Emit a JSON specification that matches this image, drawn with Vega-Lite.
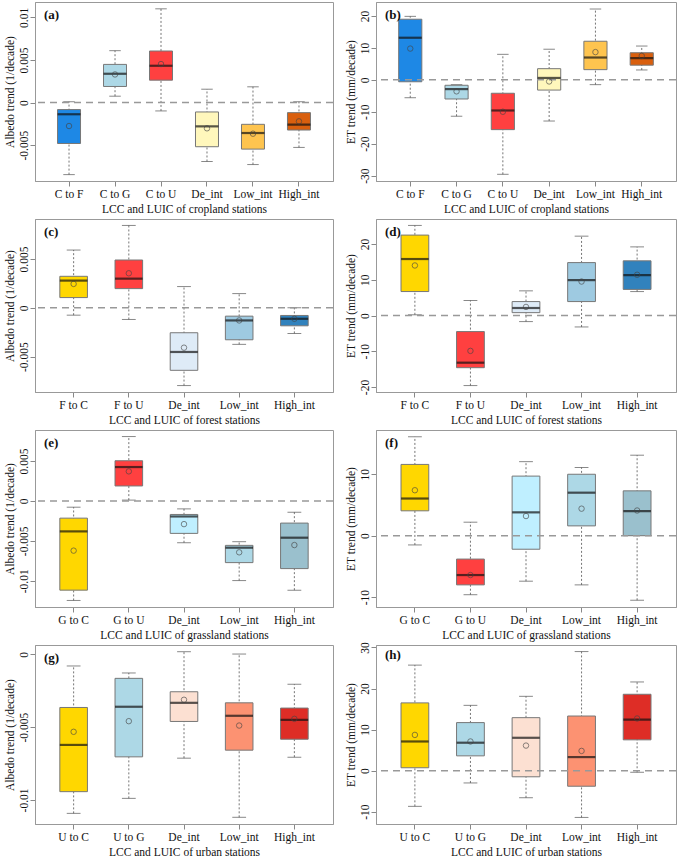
{
"$schema": "https://vega.github.io/schema/vega-lite/v6.json",
"background": "white",
"padding": {"left": 3, "top": 1, "right": 2, "bottom": 2},
"bounds": "flush",
"align": "each",
"columns": 2,
"spacing": {"row": 38, "column": 43},
"resolve": {"scale": {"color": "independent", "x": "independent", "y": "independent"}},
"datasets": {
"a": [
{"cat":"C to F","min":-0.00845,"q1":-0.0048,"med":-0.00137,"q3":-0.00082,"max":0.0001,"mean":-0.00275},
{"cat":"C to G","min":0.00075,"q1":0.00189,"med":0.00338,"q3":0.00448,"max":0.00609,"mean":0.0033},
{"cat":"C to U","min":-0.00098,"q1":0.00263,"med":0.00432,"q3":0.00605,"max":0.011,"mean":0.00452},
{"cat":"De_int","min":-0.00691,"q1":-0.00518,"med":-0.00279,"q3":-0.0011,"max":0.00157,"mean":-0.00302},
{"cat":"Low_int","min":-0.00727,"q1":-0.00546,"med":-0.00357,"q3":-0.00255,"max":0.00185,"mean":-0.00365},
{"cat":"High_int","min":-0.00526,"q1":-0.00322,"med":-0.00259,"q3":-0.00118,"max":0.0001,"mean":-0.0022}],
"b": [
{"cat":"C to F","min":-5.6,"q1":-0.6,"med":13.2,"q3":19.0,"max":19.9,"mean":9.8},
{"cat":"C to G","min":-11.4,"q1":-6.0,"med":-2.9,"q3":-1.7,"max":-1.5,"mean":-3.6},
{"cat":"C to U","min":-29.6,"q1":-15.6,"med":-9.6,"q3":-4.2,"max":8.0,"mean":-10.0},
{"cat":"De_int","min":-12.9,"q1":-3.2,"med":0.6,"q3":3.5,"max":9.6,"mean":-0.5},
{"cat":"Low_int","min":-1.5,"q1":3.2,"med":7.0,"q3":12.1,"max":22.2,"mean":8.7},
{"cat":"High_int","min":3.1,"q1":4.6,"med":6.8,"q3":8.5,"max":10.6,"mean":7.5}],
"c": [
{"cat":"F to C","min":-0.00075,"q1":0.00105,"med":0.00279,"q3":0.00323,"max":0.00592,"mean":0.00245},
{"cat":"F to U","min":-0.00119,"q1":0.00197,"med":0.00299,"q3":0.0049,"max":0.00844,"mean":0.00354},
{"cat":"De_int","min":-0.00796,"q1":-0.0064,"med":-0.00452,"q3":-0.00255,"max":0.00218,"mean":-0.00408},
{"cat":"Low_int","min":-0.00374,"q1":-0.00327,"med":-0.00129,"q3":-0.00085,"max":0.00146,"mean":-0.00129},
{"cat":"High_int","min":-0.00262,"q1":-0.00184,"med":-0.00112,"q3":-0.00078,"max":0.0,"mean":-0.00112}],
"d": [
{"cat":"F to C","min":0.2,"q1":6.7,"med":15.8,"q3":22.5,"max":25.2,"mean":14.0},
{"cat":"F to U","min":-19.6,"q1":-14.6,"med":-13.2,"q3":-4.5,"max":4.2,"mean":-9.9},
{"cat":"De_int","min":-1.7,"q1":0.8,"med":2.1,"q3":3.9,"max":6.9,"mean":2.4},
{"cat":"Low_int","min":-3.2,"q1":3.9,"med":9.9,"q3":14.8,"max":22.2,"mean":9.5},
{"cat":"High_int","min":6.7,"q1":7.3,"med":11.3,"q3":15.3,"max":19.2,"mean":11.4}],
"e": [
{"cat":"G to C","min":-0.01247,"q1":-0.01118,"med":-0.00382,"q3":-0.00216,"max":-0.00079,"mean":-0.00623},
{"cat":"G to U","min":0.0001,"q1":0.00187,"med":0.00424,"q3":0.00503,"max":0.00806,"mean":0.0037},
{"cat":"De_int","min":-0.00524,"q1":-0.00407,"med":-0.00195,"q3":-0.0017,"max":-0.001,"mean":-0.00291},
{"cat":"Low_int","min":-0.00998,"q1":-0.00773,"med":-0.00586,"q3":-0.00557,"max":-0.00511,"mean":-0.00644},
{"cat":"High_int","min":-0.01118,"q1":-0.00848,"med":-0.00461,"q3":-0.00278,"max":-0.00141,"mean":-0.00553}],
"f": [
{"cat":"G to C","min":-1.5,"q1":4.05,"med":6.05,"q3":11.6,"max":16.1,"mean":7.4},
{"cat":"G to U","min":-9.6,"q1":-8.0,"med":-6.4,"q3":-3.8,"max":2.2,"mean":-6.4},
{"cat":"De_int","min":-7.4,"q1":-2.2,"med":3.8,"q3":9.7,"max":12.05,"mean":3.2},
{"cat":"Low_int","min":-8.0,"q1":1.6,"med":7.0,"q3":10.0,"max":11.1,"mean":4.4},
{"cat":"High_int","min":-10.5,"q1":0.0,"med":4.0,"q3":7.3,"max":13.1,"mean":4.1}],
"g": [
{"cat":"U to C","min":-0.01092,"q1":-0.00943,"med":-0.00622,"q3":-0.00365,"max":-0.0008,"mean":-0.00532},
{"cat":"U to G","min":-0.00989,"q1":-0.00704,"med":-0.0036,"q3":-0.00165,"max":-0.00128,"mean":-0.00459},
{"cat":"De_int","min":-0.00713,"q1":-0.00461,"med":-0.00333,"q3":-0.00257,"max":0.00018,"mean":-0.00312},
{"cat":"Low_int","min":-0.01119,"q1":-0.00658,"med":-0.00422,"q3":-0.00333,"max":0.00002,"mean":-0.00489},
{"cat":"High_int","min":-0.00706,"q1":-0.00583,"med":-0.0045,"q3":-0.00369,"max":-0.00206,"mean":-0.00443}],
"h": [
{"cat":"U to C","min":-8.7,"q1":0.7,"med":7.1,"q3":16.5,"max":25.7,"mean":8.7},
{"cat":"U to G","min":-3.0,"q1":3.6,"med":6.8,"q3":11.7,"max":15.9,"mean":7.1},
{"cat":"De_int","min":-6.6,"q1":-1.5,"med":8.0,"q3":12.9,"max":18.1,"mean":6.1},
{"cat":"Low_int","min":-11.4,"q1":-3.8,"med":3.3,"q3":13.3,"max":29.0,"mean":4.8},
{"cat":"High_int","min":-0.4,"q1":7.5,"med":12.4,"q3":18.6,"max":21.6,"mean":12.7}]
},
"concat": [
{
"width": 298, "height": 179, "data": {"name": "a"}, "title": "(a)",
"layer": [
{"mark":{"type":"rule","strokeDash":[2,2],"color":"#666","strokeWidth":0.9},"encoding":{"x":{"field":"cat","type":"nominal","sort":null,"scale":{"paddingInner":0,"paddingOuter":0.24},"title":"LCC and LUIC of cropland stations"},"y":{"field":"min","type":"quantitative","scale":{"domain":[-0.0092,0.0118],"nice":false,"zero":false},"title":"Albedo trend (1/decade)","axis":{"values":[-0.005,0,0.005,0.01],"tickCount":12,"labelExpr":"'' + datum.value","labelOverlap":false}},"y2":{"field":"max"}}},
{"mark":{"type":"tick","orient":"horizontal","size":11.5,"thickness":1,"color":"#555"},"encoding":{"x":{"field":"cat","type":"nominal","sort":null,"scale":{"paddingInner":0,"paddingOuter":0.24},"title":"LCC and LUIC of cropland stations"},"y":{"field":"min","type":"quantitative","scale":{"domain":[-0.0092,0.0118],"nice":false,"zero":false},"title":"Albedo trend (1/decade)"}}},
{"mark":{"type":"tick","orient":"horizontal","size":11.5,"thickness":1,"color":"#555"},"encoding":{"x":{"field":"cat","type":"nominal","sort":null,"scale":{"paddingInner":0,"paddingOuter":0.24},"title":"LCC and LUIC of cropland stations"},"y":{"field":"max","type":"quantitative","scale":{"domain":[-0.0092,0.0118],"nice":false,"zero":false},"title":"Albedo trend (1/decade)"}}},
{"mark":{"type":"bar","width":{"band":0.5},"stroke":"#777","strokeWidth":1,"opacity":1},"encoding":{"x":{"field":"cat","type":"nominal","sort":null,"scale":{"paddingInner":0,"paddingOuter":0.24},"title":"LCC and LUIC of cropland stations"},"y":{"field":"q1","type":"quantitative","scale":{"domain":[-0.0092,0.0118],"nice":false,"zero":false},"title":"Albedo trend (1/decade)"},"y2":{"field":"q3"},"color":{"field":"cat","type":"nominal","scale":{"domain":["C to F","C to G","C to U","De_int","Low_int","High_int"],"range":["#1E88E5","#ADD8E6","#FF4040","#FFF7BC","#FEC44F","#D95F0E"]},"legend":null}}},
{"data":{"values":[{"z":0}]},"mark":{"type":"rule","strokeDash":[7,5],"color":"#999","strokeWidth":1.5},"encoding":{"y":{"field":"z","type":"quantitative","scale":{"domain":[-0.0092,0.0118],"nice":false,"zero":false},"title":"Albedo trend (1/decade)"}}},
{"mark":{"type":"tick","orient":"horizontal","size":23,"thickness":2.2,"color":"#111"},"encoding":{"x":{"field":"cat","type":"nominal","sort":null,"scale":{"paddingInner":0,"paddingOuter":0.24},"title":"LCC and LUIC of cropland stations"},"y":{"field":"med","type":"quantitative","scale":{"domain":[-0.0092,0.0118],"nice":false,"zero":false},"title":"Albedo trend (1/decade)"}}},
{"mark":{"type":"point","shape":"circle","filled":false,"size":30,"color":"#444","strokeWidth":0.9},"encoding":{"x":{"field":"cat","type":"nominal","sort":null,"scale":{"paddingInner":0,"paddingOuter":0.24},"title":"LCC and LUIC of cropland stations"},"y":{"field":"mean","type":"quantitative","scale":{"domain":[-0.0092,0.0118],"nice":false,"zero":false},"title":"Albedo trend (1/decade)"}}}
]
},
{
"width": 300, "height": 179, "data": {"name": "b"}, "title": "(b)",
"layer": [
{"mark":{"type":"rule","strokeDash":[2,2],"color":"#666","strokeWidth":0.9},"encoding":{"x":{"field":"cat","type":"nominal","sort":null,"scale":{"paddingInner":0,"paddingOuter":0.24},"title":"LCC and LUIC of cropland stations"},"y":{"field":"min","type":"quantitative","scale":{"domain":[-31.7,24.4],"nice":false,"zero":false},"title":"ET trend (mm/decade)","axis":{"values":[-30,-20,-10,0,10,20],"tickCount":12,"labelExpr":"'' + datum.value","labelOverlap":false}},"y2":{"field":"max"}}},
{"mark":{"type":"tick","orient":"horizontal","size":11.5,"thickness":1,"color":"#555"},"encoding":{"x":{"field":"cat","type":"nominal","sort":null,"scale":{"paddingInner":0,"paddingOuter":0.24},"title":"LCC and LUIC of cropland stations"},"y":{"field":"min","type":"quantitative","scale":{"domain":[-31.7,24.4],"nice":false,"zero":false},"title":"ET trend (mm/decade)"}}},
{"mark":{"type":"tick","orient":"horizontal","size":11.5,"thickness":1,"color":"#555"},"encoding":{"x":{"field":"cat","type":"nominal","sort":null,"scale":{"paddingInner":0,"paddingOuter":0.24},"title":"LCC and LUIC of cropland stations"},"y":{"field":"max","type":"quantitative","scale":{"domain":[-31.7,24.4],"nice":false,"zero":false},"title":"ET trend (mm/decade)"}}},
{"mark":{"type":"bar","width":{"band":0.5},"stroke":"#777","strokeWidth":1,"opacity":1},"encoding":{"x":{"field":"cat","type":"nominal","sort":null,"scale":{"paddingInner":0,"paddingOuter":0.24},"title":"LCC and LUIC of cropland stations"},"y":{"field":"q1","type":"quantitative","scale":{"domain":[-31.7,24.4],"nice":false,"zero":false},"title":"ET trend (mm/decade)"},"y2":{"field":"q3"},"color":{"field":"cat","type":"nominal","scale":{"domain":["C to F","C to G","C to U","De_int","Low_int","High_int"],"range":["#1E88E5","#ADD8E6","#FF4040","#FFF7BC","#FEC44F","#D95F0E"]},"legend":null}}},
{"data":{"values":[{"z":0}]},"mark":{"type":"rule","strokeDash":[7,5],"color":"#999","strokeWidth":1.5},"encoding":{"y":{"field":"z","type":"quantitative","scale":{"domain":[-31.7,24.4],"nice":false,"zero":false},"title":"ET trend (mm/decade)"}}},
{"mark":{"type":"tick","orient":"horizontal","size":23,"thickness":2.2,"color":"#111"},"encoding":{"x":{"field":"cat","type":"nominal","sort":null,"scale":{"paddingInner":0,"paddingOuter":0.24},"title":"LCC and LUIC of cropland stations"},"y":{"field":"med","type":"quantitative","scale":{"domain":[-31.7,24.4],"nice":false,"zero":false},"title":"ET trend (mm/decade)"}}},
{"mark":{"type":"point","shape":"circle","filled":false,"size":30,"color":"#444","strokeWidth":0.9},"encoding":{"x":{"field":"cat","type":"nominal","sort":null,"scale":{"paddingInner":0,"paddingOuter":0.24},"title":"LCC and LUIC of cropland stations"},"y":{"field":"mean","type":"quantitative","scale":{"domain":[-31.7,24.4],"nice":false,"zero":false},"title":"ET trend (mm/decade)"}}}
]
},
{
"width": 298, "height": 173, "data": {"name": "c"}, "title": "(c)",
"layer": [
{"mark":{"type":"rule","strokeDash":[2,2],"color":"#666","strokeWidth":0.9},"encoding":{"x":{"field":"cat","type":"nominal","sort":null,"scale":{"paddingInner":0,"paddingOuter":0.2},"title":"LCC and LUIC of forest stations"},"y":{"field":"min","type":"quantitative","scale":{"domain":[-0.00862,0.0091],"nice":false,"zero":false},"title":"Albedo trend (1/decade)","axis":{"values":[-0.005,0,0.005],"tickCount":12,"labelExpr":"'' + datum.value","labelOverlap":false}},"y2":{"field":"max"}}},
{"mark":{"type":"tick","orient":"horizontal","size":13.8,"thickness":1,"color":"#555"},"encoding":{"x":{"field":"cat","type":"nominal","sort":null,"scale":{"paddingInner":0,"paddingOuter":0.2},"title":"LCC and LUIC of forest stations"},"y":{"field":"min","type":"quantitative","scale":{"domain":[-0.00862,0.0091],"nice":false,"zero":false},"title":"Albedo trend (1/decade)"}}},
{"mark":{"type":"tick","orient":"horizontal","size":13.8,"thickness":1,"color":"#555"},"encoding":{"x":{"field":"cat","type":"nominal","sort":null,"scale":{"paddingInner":0,"paddingOuter":0.2},"title":"LCC and LUIC of forest stations"},"y":{"field":"max","type":"quantitative","scale":{"domain":[-0.00862,0.0091],"nice":false,"zero":false},"title":"Albedo trend (1/decade)"}}},
{"mark":{"type":"bar","width":{"band":0.5},"stroke":"#777","strokeWidth":1,"opacity":1},"encoding":{"x":{"field":"cat","type":"nominal","sort":null,"scale":{"paddingInner":0,"paddingOuter":0.2},"title":"LCC and LUIC of forest stations"},"y":{"field":"q1","type":"quantitative","scale":{"domain":[-0.00862,0.0091],"nice":false,"zero":false},"title":"Albedo trend (1/decade)"},"y2":{"field":"q3"},"color":{"field":"cat","type":"nominal","scale":{"domain":["F to C","F to U","De_int","Low_int","High_int"],"range":["#FFD700","#FF4040","#DEEBF7","#9ECAE1","#3182BD"]},"legend":null}}},
{"data":{"values":[{"z":0}]},"mark":{"type":"rule","strokeDash":[7,5],"color":"#999","strokeWidth":1.5},"encoding":{"y":{"field":"z","type":"quantitative","scale":{"domain":[-0.00862,0.0091],"nice":false,"zero":false},"title":"Albedo trend (1/decade)"}}},
{"mark":{"type":"tick","orient":"horizontal","size":27.6,"thickness":2.2,"color":"#111"},"encoding":{"x":{"field":"cat","type":"nominal","sort":null,"scale":{"paddingInner":0,"paddingOuter":0.2},"title":"LCC and LUIC of forest stations"},"y":{"field":"med","type":"quantitative","scale":{"domain":[-0.00862,0.0091],"nice":false,"zero":false},"title":"Albedo trend (1/decade)"}}},
{"mark":{"type":"point","shape":"circle","filled":false,"size":30,"color":"#444","strokeWidth":0.9},"encoding":{"x":{"field":"cat","type":"nominal","sort":null,"scale":{"paddingInner":0,"paddingOuter":0.2},"title":"LCC and LUIC of forest stations"},"y":{"field":"mean","type":"quantitative","scale":{"domain":[-0.00862,0.0091],"nice":false,"zero":false},"title":"Albedo trend (1/decade)"}}}
]
},
{
"width": 300, "height": 173, "data": {"name": "d"}, "title": "(d)",
"layer": [
{"mark":{"type":"rule","strokeDash":[2,2],"color":"#666","strokeWidth":0.9},"encoding":{"x":{"field":"cat","type":"nominal","sort":null,"scale":{"paddingInner":0,"paddingOuter":0.2},"title":"LCC and LUIC of forest stations"},"y":{"field":"min","type":"quantitative","scale":{"domain":[-21.4,27.0],"nice":false,"zero":false},"title":"ET trend (mm/decade)","axis":{"values":[-20,-10,0,10,20],"tickCount":12,"labelExpr":"'' + datum.value","labelOverlap":false}},"y2":{"field":"max"}}},
{"mark":{"type":"tick","orient":"horizontal","size":13.8,"thickness":1,"color":"#555"},"encoding":{"x":{"field":"cat","type":"nominal","sort":null,"scale":{"paddingInner":0,"paddingOuter":0.2},"title":"LCC and LUIC of forest stations"},"y":{"field":"min","type":"quantitative","scale":{"domain":[-21.4,27.0],"nice":false,"zero":false},"title":"ET trend (mm/decade)"}}},
{"mark":{"type":"tick","orient":"horizontal","size":13.8,"thickness":1,"color":"#555"},"encoding":{"x":{"field":"cat","type":"nominal","sort":null,"scale":{"paddingInner":0,"paddingOuter":0.2},"title":"LCC and LUIC of forest stations"},"y":{"field":"max","type":"quantitative","scale":{"domain":[-21.4,27.0],"nice":false,"zero":false},"title":"ET trend (mm/decade)"}}},
{"mark":{"type":"bar","width":{"band":0.5},"stroke":"#777","strokeWidth":1,"opacity":1},"encoding":{"x":{"field":"cat","type":"nominal","sort":null,"scale":{"paddingInner":0,"paddingOuter":0.2},"title":"LCC and LUIC of forest stations"},"y":{"field":"q1","type":"quantitative","scale":{"domain":[-21.4,27.0],"nice":false,"zero":false},"title":"ET trend (mm/decade)"},"y2":{"field":"q3"},"color":{"field":"cat","type":"nominal","scale":{"domain":["F to C","F to U","De_int","Low_int","High_int"],"range":["#FFD700","#FF4040","#DEEBF7","#9ECAE1","#3182BD"]},"legend":null}}},
{"data":{"values":[{"z":0}]},"mark":{"type":"rule","strokeDash":[7,5],"color":"#999","strokeWidth":1.5},"encoding":{"y":{"field":"z","type":"quantitative","scale":{"domain":[-21.4,27.0],"nice":false,"zero":false},"title":"ET trend (mm/decade)"}}},
{"mark":{"type":"tick","orient":"horizontal","size":27.6,"thickness":2.2,"color":"#111"},"encoding":{"x":{"field":"cat","type":"nominal","sort":null,"scale":{"paddingInner":0,"paddingOuter":0.2},"title":"LCC and LUIC of forest stations"},"y":{"field":"med","type":"quantitative","scale":{"domain":[-21.4,27.0],"nice":false,"zero":false},"title":"ET trend (mm/decade)"}}},
{"mark":{"type":"point","shape":"circle","filled":false,"size":30,"color":"#444","strokeWidth":0.9},"encoding":{"x":{"field":"cat","type":"nominal","sort":null,"scale":{"paddingInner":0,"paddingOuter":0.2},"title":"LCC and LUIC of forest stations"},"y":{"field":"mean","type":"quantitative","scale":{"domain":[-21.4,27.0],"nice":false,"zero":false},"title":"ET trend (mm/decade)"}}}
]
},
{
"width": 298, "height": 177, "data": {"name": "e"}, "title": "(e)",
"layer": [
{"mark":{"type":"rule","strokeDash":[2,2],"color":"#666","strokeWidth":0.9},"encoding":{"x":{"field":"cat","type":"nominal","sort":null,"scale":{"paddingInner":0,"paddingOuter":0.2},"title":"LCC and LUIC of grassland stations"},"y":{"field":"min","type":"quantitative","scale":{"domain":[-0.01329,0.00888],"nice":false,"zero":false},"title":"Albedo trend (1/decade)","axis":{"values":[-0.01,-0.005,0,0.005],"tickCount":12,"labelExpr":"'' + datum.value","labelOverlap":false}},"y2":{"field":"max"}}},
{"mark":{"type":"tick","orient":"horizontal","size":13.8,"thickness":1,"color":"#555"},"encoding":{"x":{"field":"cat","type":"nominal","sort":null,"scale":{"paddingInner":0,"paddingOuter":0.2},"title":"LCC and LUIC of grassland stations"},"y":{"field":"min","type":"quantitative","scale":{"domain":[-0.01329,0.00888],"nice":false,"zero":false},"title":"Albedo trend (1/decade)"}}},
{"mark":{"type":"tick","orient":"horizontal","size":13.8,"thickness":1,"color":"#555"},"encoding":{"x":{"field":"cat","type":"nominal","sort":null,"scale":{"paddingInner":0,"paddingOuter":0.2},"title":"LCC and LUIC of grassland stations"},"y":{"field":"max","type":"quantitative","scale":{"domain":[-0.01329,0.00888],"nice":false,"zero":false},"title":"Albedo trend (1/decade)"}}},
{"mark":{"type":"bar","width":{"band":0.5},"stroke":"#777","strokeWidth":1,"opacity":1},"encoding":{"x":{"field":"cat","type":"nominal","sort":null,"scale":{"paddingInner":0,"paddingOuter":0.2},"title":"LCC and LUIC of grassland stations"},"y":{"field":"q1","type":"quantitative","scale":{"domain":[-0.01329,0.00888],"nice":false,"zero":false},"title":"Albedo trend (1/decade)"},"y2":{"field":"q3"},"color":{"field":"cat","type":"nominal","scale":{"domain":["G to C","G to U","De_int","Low_int","High_int"],"range":["#FFD700","#FF4040","#BFEFFF","#ADD8E6","#9AC0CD"]},"legend":null}}},
{"data":{"values":[{"z":0}]},"mark":{"type":"rule","strokeDash":[7,5],"color":"#999","strokeWidth":1.5},"encoding":{"y":{"field":"z","type":"quantitative","scale":{"domain":[-0.01329,0.00888],"nice":false,"zero":false},"title":"Albedo trend (1/decade)"}}},
{"mark":{"type":"tick","orient":"horizontal","size":27.6,"thickness":2.2,"color":"#111"},"encoding":{"x":{"field":"cat","type":"nominal","sort":null,"scale":{"paddingInner":0,"paddingOuter":0.2},"title":"LCC and LUIC of grassland stations"},"y":{"field":"med","type":"quantitative","scale":{"domain":[-0.01329,0.00888],"nice":false,"zero":false},"title":"Albedo trend (1/decade)"}}},
{"mark":{"type":"point","shape":"circle","filled":false,"size":30,"color":"#444","strokeWidth":0.9},"encoding":{"x":{"field":"cat","type":"nominal","sort":null,"scale":{"paddingInner":0,"paddingOuter":0.2},"title":"LCC and LUIC of grassland stations"},"y":{"field":"mean","type":"quantitative","scale":{"domain":[-0.01329,0.00888],"nice":false,"zero":false},"title":"Albedo trend (1/decade)"}}}
]
},
{
"width": 300, "height": 177, "data": {"name": "f"}, "title": "(f)",
"layer": [
{"mark":{"type":"rule","strokeDash":[2,2],"color":"#666","strokeWidth":0.9},"encoding":{"x":{"field":"cat","type":"nominal","sort":null,"scale":{"paddingInner":0,"paddingOuter":0.2},"title":"LCC and LUIC of grassland stations"},"y":{"field":"min","type":"quantitative","scale":{"domain":[-11.6,17.2],"nice":false,"zero":false},"title":"ET trend (mm/decade)","axis":{"values":[-10,0,10],"tickCount":12,"labelExpr":"'' + datum.value","labelOverlap":false}},"y2":{"field":"max"}}},
{"mark":{"type":"tick","orient":"horizontal","size":13.8,"thickness":1,"color":"#555"},"encoding":{"x":{"field":"cat","type":"nominal","sort":null,"scale":{"paddingInner":0,"paddingOuter":0.2},"title":"LCC and LUIC of grassland stations"},"y":{"field":"min","type":"quantitative","scale":{"domain":[-11.6,17.2],"nice":false,"zero":false},"title":"ET trend (mm/decade)"}}},
{"mark":{"type":"tick","orient":"horizontal","size":13.8,"thickness":1,"color":"#555"},"encoding":{"x":{"field":"cat","type":"nominal","sort":null,"scale":{"paddingInner":0,"paddingOuter":0.2},"title":"LCC and LUIC of grassland stations"},"y":{"field":"max","type":"quantitative","scale":{"domain":[-11.6,17.2],"nice":false,"zero":false},"title":"ET trend (mm/decade)"}}},
{"mark":{"type":"bar","width":{"band":0.5},"stroke":"#777","strokeWidth":1,"opacity":1},"encoding":{"x":{"field":"cat","type":"nominal","sort":null,"scale":{"paddingInner":0,"paddingOuter":0.2},"title":"LCC and LUIC of grassland stations"},"y":{"field":"q1","type":"quantitative","scale":{"domain":[-11.6,17.2],"nice":false,"zero":false},"title":"ET trend (mm/decade)"},"y2":{"field":"q3"},"color":{"field":"cat","type":"nominal","scale":{"domain":["G to C","G to U","De_int","Low_int","High_int"],"range":["#FFD700","#FF4040","#BFEFFF","#ADD8E6","#9AC0CD"]},"legend":null}}},
{"data":{"values":[{"z":0}]},"mark":{"type":"rule","strokeDash":[7,5],"color":"#999","strokeWidth":1.5},"encoding":{"y":{"field":"z","type":"quantitative","scale":{"domain":[-11.6,17.2],"nice":false,"zero":false},"title":"ET trend (mm/decade)"}}},
{"mark":{"type":"tick","orient":"horizontal","size":27.6,"thickness":2.2,"color":"#111"},"encoding":{"x":{"field":"cat","type":"nominal","sort":null,"scale":{"paddingInner":0,"paddingOuter":0.2},"title":"LCC and LUIC of grassland stations"},"y":{"field":"med","type":"quantitative","scale":{"domain":[-11.6,17.2],"nice":false,"zero":false},"title":"ET trend (mm/decade)"}}},
{"mark":{"type":"point","shape":"circle","filled":false,"size":30,"color":"#444","strokeWidth":0.9},"encoding":{"x":{"field":"cat","type":"nominal","sort":null,"scale":{"paddingInner":0,"paddingOuter":0.2},"title":"LCC and LUIC of grassland stations"},"y":{"field":"mean","type":"quantitative","scale":{"domain":[-11.6,17.2],"nice":false,"zero":false},"title":"ET trend (mm/decade)"}}}
]
},
{
"width": 298, "height": 179, "data": {"name": "g"}, "title": "(g)",
"layer": [
{"mark":{"type":"rule","strokeDash":[2,2],"color":"#666","strokeWidth":0.9},"encoding":{"x":{"field":"cat","type":"nominal","sort":null,"scale":{"paddingInner":0,"paddingOuter":0.2},"title":"LCC and LUIC of urban stations"},"y":{"field":"min","type":"quantitative","scale":{"domain":[-0.01165,0.00064],"nice":false,"zero":false},"title":"Albedo trend (1/decade)","axis":{"values":[-0.01,-0.005,0],"tickCount":12,"labelExpr":"'' + datum.value","labelOverlap":false}},"y2":{"field":"max"}}},
{"mark":{"type":"tick","orient":"horizontal","size":13.8,"thickness":1,"color":"#555"},"encoding":{"x":{"field":"cat","type":"nominal","sort":null,"scale":{"paddingInner":0,"paddingOuter":0.2},"title":"LCC and LUIC of urban stations"},"y":{"field":"min","type":"quantitative","scale":{"domain":[-0.01165,0.00064],"nice":false,"zero":false},"title":"Albedo trend (1/decade)"}}},
{"mark":{"type":"tick","orient":"horizontal","size":13.8,"thickness":1,"color":"#555"},"encoding":{"x":{"field":"cat","type":"nominal","sort":null,"scale":{"paddingInner":0,"paddingOuter":0.2},"title":"LCC and LUIC of urban stations"},"y":{"field":"max","type":"quantitative","scale":{"domain":[-0.01165,0.00064],"nice":false,"zero":false},"title":"Albedo trend (1/decade)"}}},
{"mark":{"type":"bar","width":{"band":0.5},"stroke":"#777","strokeWidth":1,"opacity":1},"encoding":{"x":{"field":"cat","type":"nominal","sort":null,"scale":{"paddingInner":0,"paddingOuter":0.2},"title":"LCC and LUIC of urban stations"},"y":{"field":"q1","type":"quantitative","scale":{"domain":[-0.01165,0.00064],"nice":false,"zero":false},"title":"Albedo trend (1/decade)"},"y2":{"field":"q3"},"color":{"field":"cat","type":"nominal","scale":{"domain":["U to C","U to G","De_int","Low_int","High_int"],"range":["#FFD700","#ADD8E6","#FCE0D2","#FC9272","#DE2D26"]},"legend":null}}},
{"mark":{"type":"tick","orient":"horizontal","size":27.6,"thickness":2.2,"color":"#111"},"encoding":{"x":{"field":"cat","type":"nominal","sort":null,"scale":{"paddingInner":0,"paddingOuter":0.2},"title":"LCC and LUIC of urban stations"},"y":{"field":"med","type":"quantitative","scale":{"domain":[-0.01165,0.00064],"nice":false,"zero":false},"title":"Albedo trend (1/decade)"}}},
{"mark":{"type":"point","shape":"circle","filled":false,"size":30,"color":"#444","strokeWidth":0.9},"encoding":{"x":{"field":"cat","type":"nominal","sort":null,"scale":{"paddingInner":0,"paddingOuter":0.2},"title":"LCC and LUIC of urban stations"},"y":{"field":"mean","type":"quantitative","scale":{"domain":[-0.01165,0.00064],"nice":false,"zero":false},"title":"Albedo trend (1/decade)"}}}
]
},
{
"width": 300, "height": 179, "data": {"name": "h"}, "title": "(h)",
"layer": [
{"mark":{"type":"rule","strokeDash":[2,2],"color":"#666","strokeWidth":0.9},"encoding":{"x":{"field":"cat","type":"nominal","sort":null,"scale":{"paddingInner":0,"paddingOuter":0.2},"title":"LCC and LUIC of urban stations"},"y":{"field":"min","type":"quantitative","scale":{"domain":[-13.0,30.6],"nice":false,"zero":false},"title":"ET trend (mm/decade)","axis":{"values":[-10,0,10,20,30],"tickCount":12,"labelExpr":"'' + datum.value","labelOverlap":false}},"y2":{"field":"max"}}},
{"mark":{"type":"tick","orient":"horizontal","size":13.8,"thickness":1,"color":"#555"},"encoding":{"x":{"field":"cat","type":"nominal","sort":null,"scale":{"paddingInner":0,"paddingOuter":0.2},"title":"LCC and LUIC of urban stations"},"y":{"field":"min","type":"quantitative","scale":{"domain":[-13.0,30.6],"nice":false,"zero":false},"title":"ET trend (mm/decade)"}}},
{"mark":{"type":"tick","orient":"horizontal","size":13.8,"thickness":1,"color":"#555"},"encoding":{"x":{"field":"cat","type":"nominal","sort":null,"scale":{"paddingInner":0,"paddingOuter":0.2},"title":"LCC and LUIC of urban stations"},"y":{"field":"max","type":"quantitative","scale":{"domain":[-13.0,30.6],"nice":false,"zero":false},"title":"ET trend (mm/decade)"}}},
{"mark":{"type":"bar","width":{"band":0.5},"stroke":"#777","strokeWidth":1,"opacity":1},"encoding":{"x":{"field":"cat","type":"nominal","sort":null,"scale":{"paddingInner":0,"paddingOuter":0.2},"title":"LCC and LUIC of urban stations"},"y":{"field":"q1","type":"quantitative","scale":{"domain":[-13.0,30.6],"nice":false,"zero":false},"title":"ET trend (mm/decade)"},"y2":{"field":"q3"},"color":{"field":"cat","type":"nominal","scale":{"domain":["U to C","U to G","De_int","Low_int","High_int"],"range":["#FFD700","#ADD8E6","#FCE0D2","#FC9272","#DE2D26"]},"legend":null}}},
{"data":{"values":[{"z":0}]},"mark":{"type":"rule","strokeDash":[7,5],"color":"#999","strokeWidth":1.5},"encoding":{"y":{"field":"z","type":"quantitative","scale":{"domain":[-13.0,30.6],"nice":false,"zero":false},"title":"ET trend (mm/decade)"}}},
{"mark":{"type":"tick","orient":"horizontal","size":27.6,"thickness":2.2,"color":"#111"},"encoding":{"x":{"field":"cat","type":"nominal","sort":null,"scale":{"paddingInner":0,"paddingOuter":0.2},"title":"LCC and LUIC of urban stations"},"y":{"field":"med","type":"quantitative","scale":{"domain":[-13.0,30.6],"nice":false,"zero":false},"title":"ET trend (mm/decade)"}}},
{"mark":{"type":"point","shape":"circle","filled":false,"size":30,"color":"#444","strokeWidth":0.9},"encoding":{"x":{"field":"cat","type":"nominal","sort":null,"scale":{"paddingInner":0,"paddingOuter":0.2},"title":"LCC and LUIC of urban stations"},"y":{"field":"mean","type":"quantitative","scale":{"domain":[-13.0,30.6],"nice":false,"zero":false},"title":"ET trend (mm/decade)"}}}
]
}
],
"config": {
"font": "Liberation Serif",
"view": {"stroke": "#999", "strokeWidth": 1},
"axis": {"labelFont": "Liberation Serif", "titleFont": "Liberation Serif", "labelFontSize": 11.5, "titleFontSize": 11.5, "titleFontWeight": "normal", "labelColor": "#111", "titleColor": "#111", "domainColor": "#999", "tickColor": "#888", "tickSize": 5, "grid": false, "labelOverlap": false},
"axisY": {"labelAngle": -90, "labelAlign": "center", "labelBaseline": "bottom", "labelPadding": 1, "titlePadding": 3},
"axisX": {"labelAngle": 0, "labelPadding": 2, "titlePadding": 4},
"title": {"font": "Liberation Serif", "fontSize": 13, "fontWeight": "bold", "color": "#111", "anchor": "start", "frame": "group", "offset": -20, "dx": 9, "baseline": "alphabetic"}
}
}
